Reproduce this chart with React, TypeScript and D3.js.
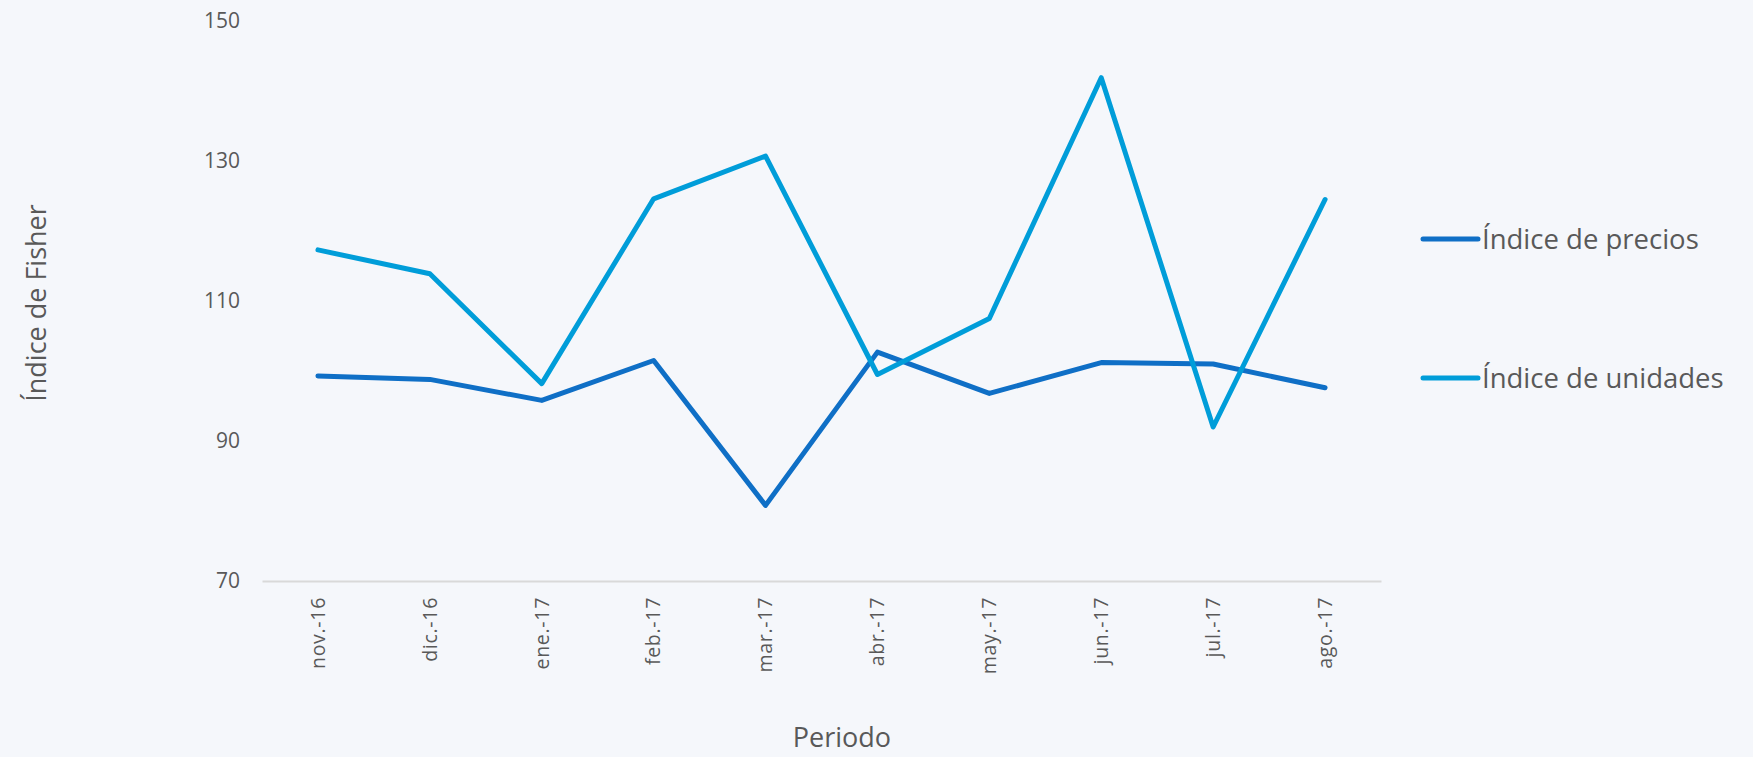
import React, { useEffect, useRef } from "react";
import * as d3 from "d3";

const periods = [
  "nov.-16",
  "dic.-16",
  "ene.-17",
  "feb.-17",
  "mar.-17",
  "abr.-17",
  "may.-17",
  "jun.-17",
  "jul.-17",
  "ago.-17",
];

const preciosValues = [99.3, 98.8, 95.8, 101.5, 80.8, 102.7, 96.8, 101.2, 101.0, 97.6];
const unidadesValues = [117.3, 113.9, 98.2, 124.6, 130.7, 99.5, 107.5, 141.9, 92.0, 124.5];

const yTicks = [70, 90, 110, 130, 150];

const seriesNames = ["Índice de precios", "Índice de unidades"];
const seriesColors = ["#0F6FC6", "#009DD9"];

const WIDTH = 1753;
const HEIGHT = 757;
const TEXT = "#595959";
const FONT = "'Open Sans', sans-serif";

export default function App() {
  const svgRef = useRef<SVGSVGElement>(null);

  useEffect(() => {
    document.body.style.margin = "0";
    document.body.style.background = "#F5F7FB";

    const svg = d3.select(svgRef.current);
    svg.selectAll("*").remove();

    const x = d3.scaleBand().domain(periods).range([262, 1381]);
    const y = d3.scaleLinear().domain([70, 150]).range([581, 21]);
    const cx = (d: string) => (x(d) as number) + x.bandwidth() / 2;

    svg
      .append("rect")
      .attr("width", WIDTH)
      .attr("height", HEIGHT)
      .attr("fill", "#F5F7FB");

    // y axis labels
    const yAxis = svg
      .append("g")
      .attr("transform", "translate(240,0)")
      .call(d3.axisLeft(y).tickValues(yTicks).tickSize(0).tickPadding(0));
    yAxis.select(".domain").remove();
    yAxis
      .selectAll("text")
      .attr("fill", TEXT)
      .attr("font-family", FONT)
      .attr("font-size", 21);

    // x axis
    const xAxis = svg
      .append("g")
      .attr("transform", `translate(0,${y(70)})`)
      .call(d3.axisBottom(x).tickSize(0).tickSizeOuter(0));
    xAxis.select(".domain").attr("stroke", "#D9D9D9").attr("stroke-width", 2);
    xAxis
      .selectAll("text")
      .attr("fill", TEXT)
      .attr("font-family", FONT)
      .attr("font-size", 19.5)
      .attr("letter-spacing", 0.7)
      .attr("text-anchor", "end")
      .attr("transform", "rotate(-90)")
      .attr("x", -16)
      .attr("y", 0)
      .attr("dy", "0.35em");

    // lines
    const line = d3
      .line<number>()
      .x((_, i) => cx(periods[i]))
      .y((d) => y(d));

    [preciosValues, unidadesValues].forEach((vals, i) => {
      svg
        .append("path")
        .datum(vals)
        .attr("d", line)
        .attr("fill", "none")
        .attr("stroke", seriesColors[i])
        .attr("stroke-width", 5)
        .attr("stroke-linejoin", "round")
        .attr("stroke-linecap", "round");
    });

    // legend
    const legend = svg
      .append("g")
      .selectAll("g")
      .data(seriesNames)
      .join("g")
      .attr("transform", (_, i) => `translate(1423,${239 + i * 139})`);
    legend
      .append("line")
      .attr("x1", 0)
      .attr("x2", 55)
      .attr("stroke", (_, i) => seriesColors[i])
      .attr("stroke-width", 5)
      .attr("stroke-linecap", "round");
    legend
      .append("text")
      .attr("x", 59)
      .attr("dy", "0.35em")
      .attr("fill", TEXT)
      .attr("font-family", FONT)
      .attr("font-size", 27.5)
      .text((d) => d);

    // axis titles
    svg
      .append("text")
      .attr("x", 842)
      .attr("y", 747)
      .attr("text-anchor", "middle")
      .attr("fill", TEXT)
      .attr("font-family", FONT)
      .attr("font-size", 27)
      .text("Periodo");

    svg
      .append("text")
      .attr("transform", "translate(46,303) rotate(-90)")
      .attr("text-anchor", "middle")
      .attr("fill", TEXT)
      .attr("font-family", FONT)
      .attr("font-size", 27)
      .text("Índice de Fisher");
  }, []);

  return <svg ref={svgRef} width={WIDTH} height={HEIGHT} style={{ display: "block" }} />;
}
